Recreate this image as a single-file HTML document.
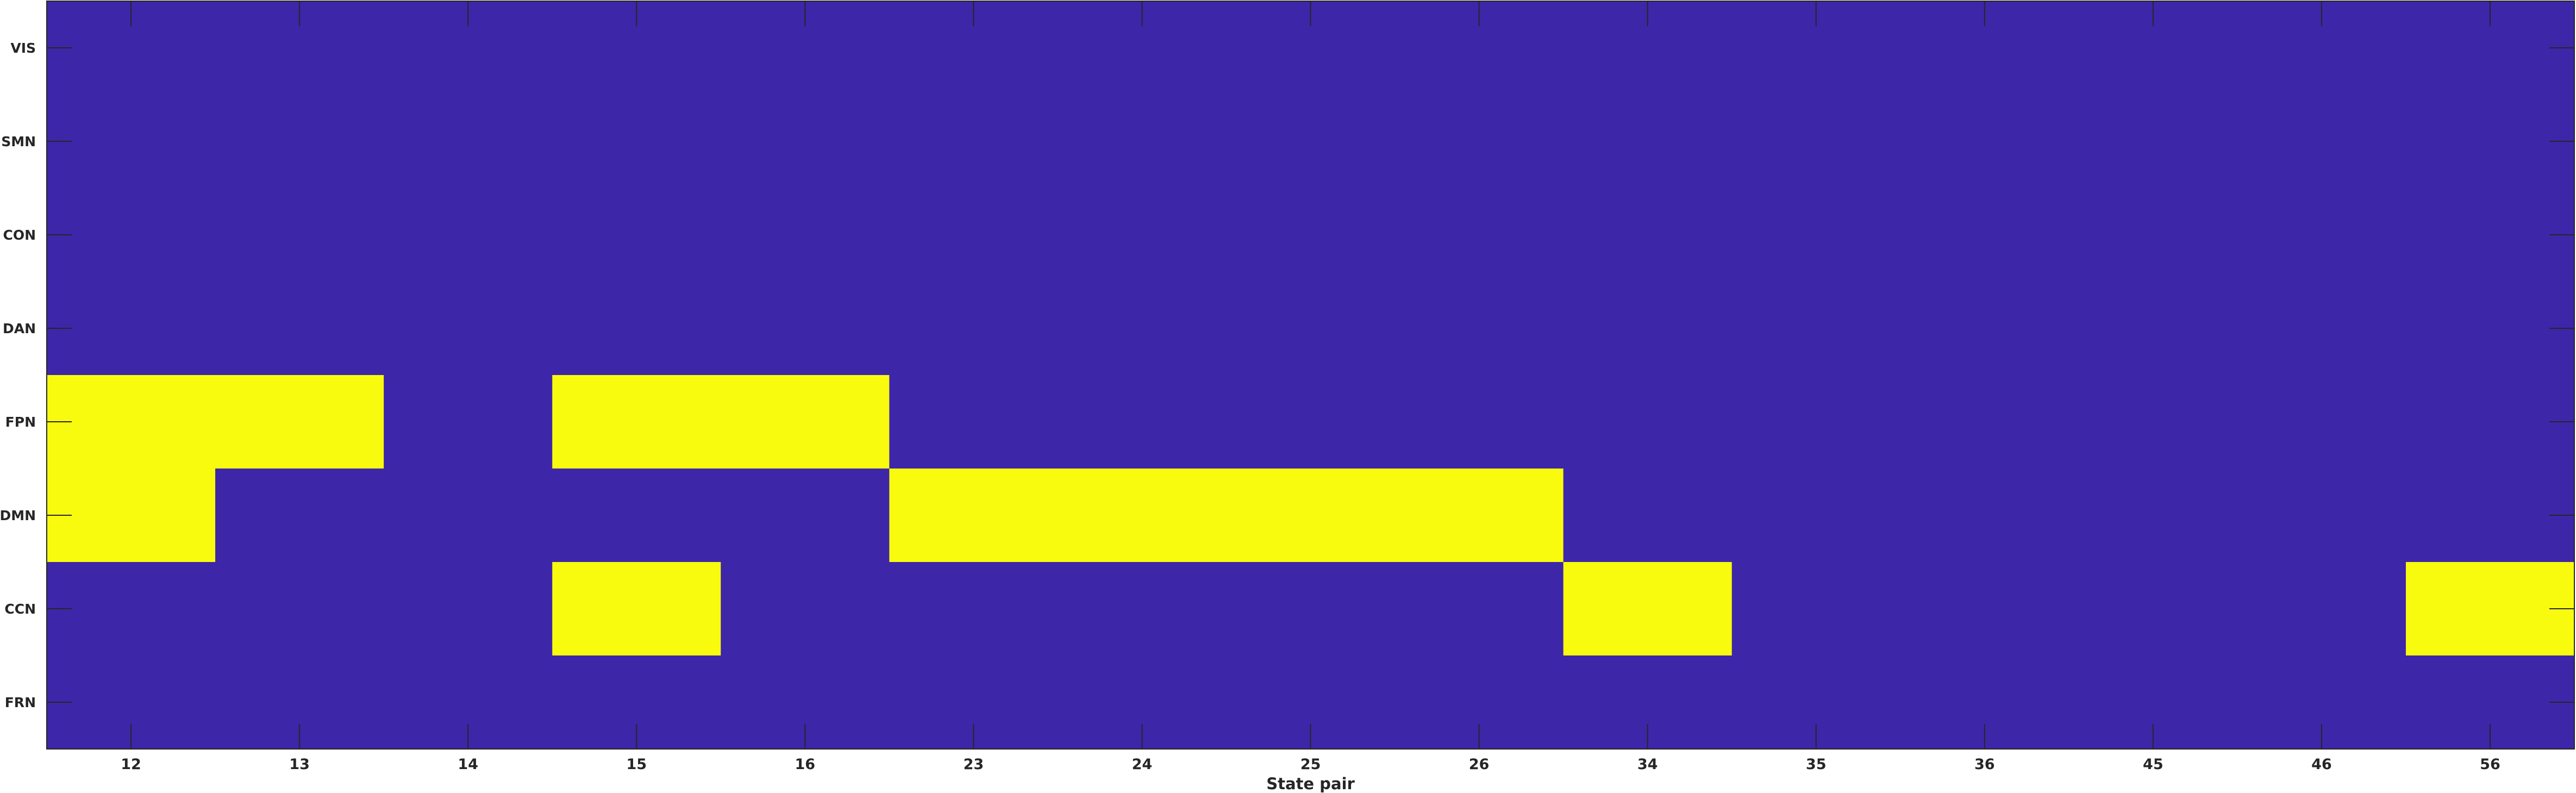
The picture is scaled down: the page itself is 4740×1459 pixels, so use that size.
<!DOCTYPE html>
<html><head><meta charset="utf-8"><style>
html,body{margin:0;padding:0;background:#fff;}
svg{display:block;}
text{font-family:"DejaVu Sans","Liberation Sans",sans-serif;font-weight:bold;fill:#262626;}
</style></head><body>
<svg id="chart" width="4740" height="1459" viewBox="0 0 4740 1459" xmlns="http://www.w3.org/2000/svg"></svg>
<script>
const categories = ["12","13","14","15","16","23","24","25","26","34","35","36","45","46","56"];
const networks = ["VIS","SMN","CON","DAN","FPN","DMN","CCN","FRN"];
const rowVIS = [0,0,0,0,0,0,0,0,0,0,0,0,0,0,0];
const rowSMN = [0,0,0,0,0,0,0,0,0,0,0,0,0,0,0];
const rowCON = [0,0,0,0,0,0,0,0,0,0,0,0,0,0,0];
const rowDAN = [0,0,0,0,0,0,0,0,0,0,0,0,0,0,0];
const rowFPN = [1,1,0,1,1,0,0,0,0,0,0,0,0,0,0];
const rowDMN = [1,0,0,0,0,1,1,1,1,0,0,0,0,0,0];
const rowCCN = [0,0,0,1,0,0,0,0,0,1,0,0,0,0,1];
const rowFRN = [0,0,0,0,0,0,0,0,0,0,0,0,0,0,0];
const matrix = [rowVIS,rowSMN,rowCON,rowDAN,rowFPN,rowDMN,rowCCN,rowFRN];

const NS="http://www.w3.org/2000/svg";
const svg=document.getElementById('chart');
const L=86,R=4737,T=2,B=1378;
const cw=(R-L)/categories.length, rh=(B-T)/networks.length;
const xCol=i=>L+i*cw, xMid=i=>L+(i+0.5)*cw;
const yRow=j=>T+j*rh, yMid=j=>T+(j+0.5)*rh;
const color=v=>v>0.5?"#F9FB0E":"#3E26A8";
function mk(tag,attrs){const e=document.createElementNS(NS,tag);for(const k in attrs)e.setAttribute(k,attrs[k]);svg.appendChild(e);return e;}

matrix.forEach((row,j)=>row.forEach((v,i)=>{
  const r=mk('rect',{x:xCol(i),y:yRow(j),width:cw+0.6,height:rh+0.6,fill:color(v)});
  
  
}));

const frame=mk('rect',{x:L,y:T,width:R-L,height:B-T,fill:'none',stroke:'#262626','stroke-width':2});



const tl=46;
categories.forEach((c,i)=>{
  const x=xMid(i);
  const t1=mk('line',{x1:x,y1:B,x2:x,y2:B-tl,stroke:'#262626','stroke-width':2});
  
  
  const t2=mk('line',{x1:x,y1:T,x2:x,y2:T+tl,stroke:'#262626','stroke-width':2});
  
  
  const tx=mk('text',{x:x,y:1415,'font-size':27,'text-anchor':'middle'});
  tx.textContent=c;
  
  
});
networks.forEach((n,j)=>{
  const y=yMid(j);
  const t1=mk('line',{x1:L,y1:y,x2:L+tl,y2:y,stroke:'#262626','stroke-width':2});
  
  
  const t2=mk('line',{x1:R,y1:y,x2:R-tl,y2:y,stroke:'#262626','stroke-width':2});
  
  
  const tx=mk('text',{x:66,y:y+9,'font-size':25,'text-anchor':'end'});
  tx.textContent=n;
  
  
});
const xt=mk('text',{x:(L+R)/2,y:1452,'font-size':29,'text-anchor':'middle'});
xt.textContent='State pair';


</script>
</body></html>
